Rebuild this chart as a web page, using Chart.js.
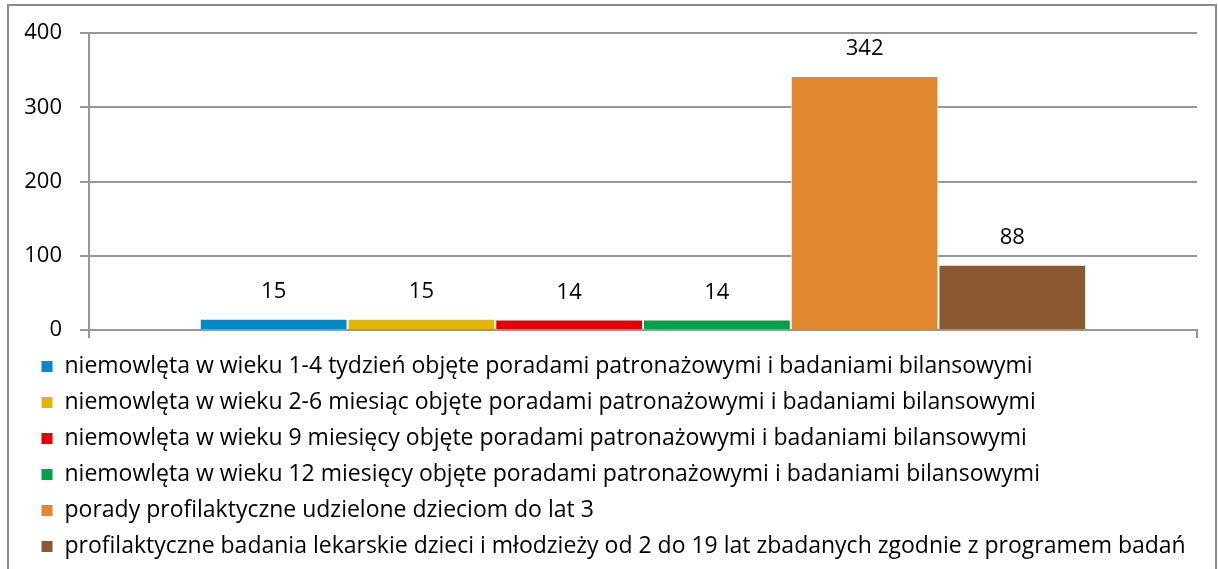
<!DOCTYPE html>
<html>
<head>
<meta charset="utf-8">
<script src="https://cdn.jsdelivr.net/npm/chart.js@4"></script>
<style>
  html, body { margin: 0; padding: 0; background: #fff; overflow: hidden; }
  #frame {
    position: absolute; left: 7px; top: 4px;
    width: 1206px; height: 575px;
    border: 2px solid #8c8c8c;
  }
</style>
</head>
<body>
<div id="frame"><canvas id="barChart"></canvas></div>
<script>
// dane z wykresu
const categories = [''];
const seriesLabels = [
    'niemowlęta w wieku 1-4 tydzień objęte poradami patronażowymi i badaniami bilansowymi',
    'niemowlęta w wieku 2-6 miesiąc objęte poradami patronażowymi i badaniami bilansowymi',
    'niemowlęta w wieku 9 miesięcy objęte poradami patronażowymi i badaniami bilansowymi',
    'niemowlęta w wieku 12 miesięcy objęte poradami patronażowymi i badaniami bilansowymi',
    'porady profilaktyczne udzielone dzieciom do lat 3',
    'profilaktyczne badania lekarskie dzieci i młodzieży od 2 do 19 lat zbadanych zgodnie z programem badań'
];
const seriesValues = [15, 15, 14, 14, 342, 88];
const seriesColors = ['#0088C9', '#E3B505', '#E40000', '#00A04A', '#E2882F', '#8A592F'];
const yMax = 400;
const yStep = 100;

const FONT = '"Open Sans", sans-serif';
const FONT_SIZE = 23;

// etykiety wartości nad słupkami
const valueLabels = {
    id: 'valueLabels',
    afterDatasetsDraw(chart) {
        const ctx = chart.ctx;
        ctx.save();
        ctx.font = '22px ' + FONT;
        ctx.fillStyle = '#000';
        ctx.textAlign = 'center';
        ctx.textBaseline = 'middle';
        chart.data.datasets.forEach((ds, i) => {
            const meta = chart.getDatasetMeta(i);
            meta.data.forEach((bar, j) => {
                ctx.fillText(ds.data[j], bar.x, bar.y - 27);
            });
        });
        ctx.restore();
    }
};

// legenda troche bardziej w prawo niz os Y
const legendShift = {
    id: 'legendShift',
    afterLayout(chart) {
        chart.legend.left += 7;
        chart.legend.right += 7;
    }
};

const ctx1 = document.getElementById('barChart').getContext('2d');
const barChart = new Chart(ctx1, {
    type: 'bar',
    data: {
        labels: categories,
        datasets: seriesLabels.map((label, i) => ({
            label: label,
            data: [seriesValues[i]],
            backgroundColor: seriesColors[i],
            borderColor: '#ffffff',
            borderWidth: 1,
            categoryPercentage: 0.8,
            barPercentage: 1
        }))
    },
    options: {
        responsive: true,
        maintainAspectRatio: false,
        animation: false,
        layout: {
            padding: { left: 12, right: 18, top: 27, bottom: 13 }
        },
        scales: {
            x: {
                ticks: { display: false },
                grid: {
                    drawOnChartArea: false,
                    drawTicks: true,
                    tickLength: 8,
                    color: '#979797',
                    lineWidth: 2
                },
                border: { color: '#979797', width: 2 },
                afterFit: function(scale) { scale.height = 12; }
            },
            y: {
                min: 0,
                max: yMax,
                ticks: {
                    stepSize: yStep,
                    padding: 18,
                    color: '#000',
                    font: { family: FONT, size: 22, lineHeight: 0.4 }
                },
                grid: {
                    color: '#979797',
                    lineWidth: 2,
                    tickLength: 9
                },
                border: { color: '#979797', width: 2 },
                afterFit: function(scale) { scale.width = 68; }
            }
        },
        plugins: {
            legend: {
                position: 'bottom',
                align: 'start',
                labels: {
                    boxWidth: 12,
                    boxHeight: 12,
                    padding: 13,
                    color: '#000',
                    font: { family: FONT, size: FONT_SIZE }
                }
            },
            tooltip: { enabled: false }
        }
    },
    plugins: [valueLabels, legendShift]
});
</script>
</body>
</html>
